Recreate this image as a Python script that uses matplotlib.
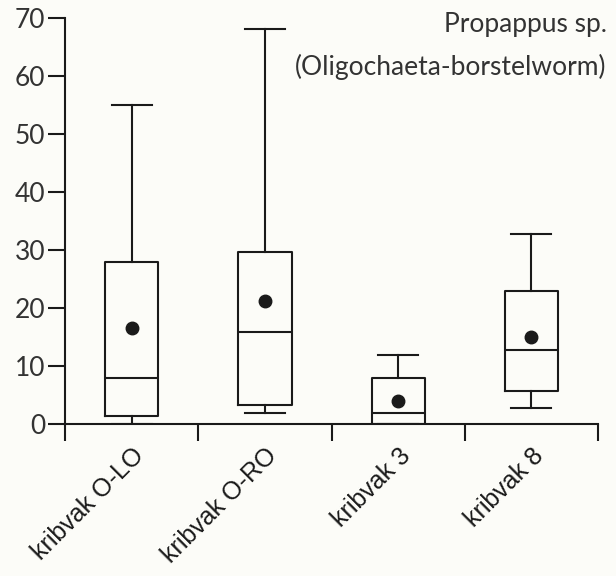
import matplotlib
matplotlib.use("Agg")
import matplotlib.pyplot as plt

# values
labels = ["kribvak O-LO", "kribvak O-RO", "kribvak 3", "kribvak 8"]
whislo = [0.0, 1.9, 0.0, 2.8]
q1 = [1.4, 3.3, 0.0, 5.7]
med = [8.0, 15.9, 1.8, 12.8]
q3 = [28.0, 29.7, 8.0, 23.0]
whishi = [55.0, 68.0, 11.8, 32.7]
means = [16.6, 21.2, 4.0, 14.9]

BG = "#fcfcf8"
INK = "#1a1a1a"

fig = plt.figure(figsize=(6.16, 5.76), dpi=100, facecolor=BG)
ax = fig.add_axes([0.1055, 0.264, 0.8655, 0.705], facecolor=BG)

stats = []
for i, lab in enumerate(labels):
    stats.append(dict(label=lab, whislo=whislo[i], q1=q1[i], med=med[i],
                      q3=q3[i], whishi=whishi[i], mean=means[i], fliers=[]))

pos = [i + 0.5 for i in range(len(labels))]
line = dict(color=INK, linewidth=1.5)
ax.bxp(stats, positions=pos, widths=0.4, capwidths=0.3, showmeans=True,
       showfliers=False, boxprops=line, whiskerprops=line, capprops=line,
       medianprops=line,
       meanprops=dict(marker="o", markerfacecolor=INK, markeredgecolor=INK,
                      markersize=9))

ax.set_xlim(0, len(labels))
ax.set_ylim(0, 70)
ax.set_xticks(range(len(labels) + 1))
ax.set_xticklabels([])
ax.set_yticks(range(0, 71, 10))
ax.set_yticklabels([str(v) for v in range(0, 71, 10)],
                   fontfamily="Lato", fontsize=19, color="#333333")
# category names sit between the ticks
ax.set_xticks(pos, minor=True)
ax.set_xticklabels(labels, minor=True, rotation=45, ha="right",
                   rotation_mode="anchor", fontfamily="Liberation Sans",
                   fontsize=18, color=INK)
ax.tick_params(axis="x", which="minor", length=0, pad=14)
ax.tick_params(axis="both", which="major", length=12, width=1.5, color=INK)
ax.tick_params(axis="y", pad=2)

for s in ["top", "right"]:
    ax.spines[s].set_visible(False)
for s in ["left", "bottom"]:
    ax.spines[s].set_linewidth(1.5)
    ax.spines[s].set_color(INK)

fig.text(0.985, 0.944, "Propappus sp.", ha="right", va="baseline",
         fontfamily="Lato", fontsize=19, color="#333333")
fig.text(0.985, 0.870, "(Oligochaeta-borstelworm)", ha="right",
         va="baseline", fontfamily="Lato", fontsize=19, color="#333333")

fig.savefig("out.png", dpi=100, facecolor=BG)
